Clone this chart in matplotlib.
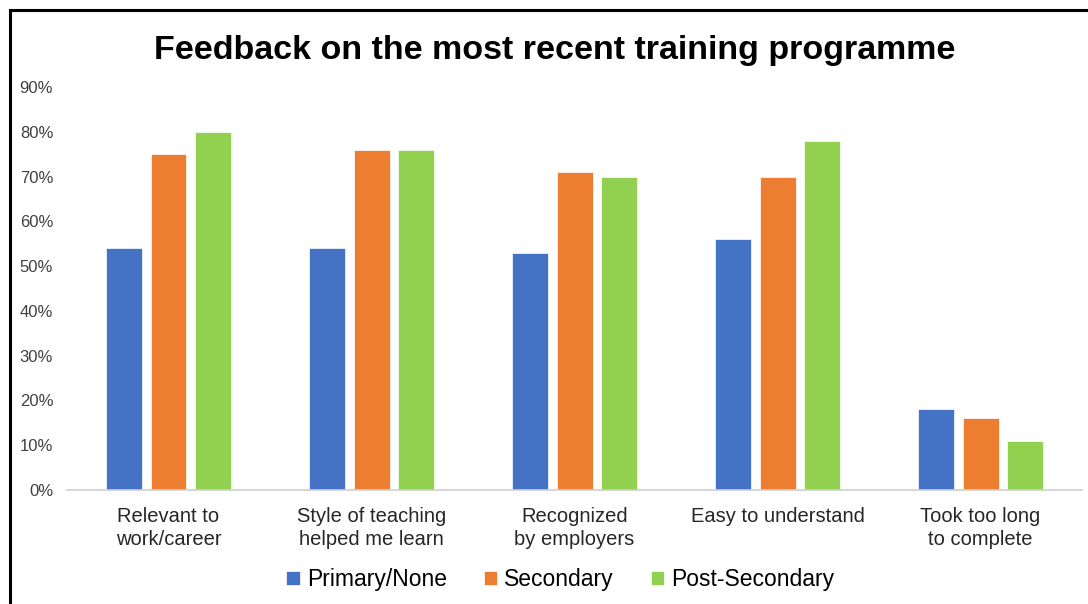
import numpy as np
import matplotlib
matplotlib.use("Agg")
import matplotlib.pyplot as plt
from matplotlib.lines import Line2D

plt.rcParams["font.family"] = ["Liberation Sans", "DejaVu Sans"]

# Data
categories = ["Relevant to\nwork/career", "Style of teaching\nhelped me learn",
              "Recognized\nby employers", "Easy to understand",
              "Took too long\nto complete"]
series = ["Primary/None", "Secondary", "Post-Secondary"]
primary = [0.54, 0.54, 0.53, 0.56, 0.18]
secondary = [0.75, 0.76, 0.71, 0.70, 0.16]
post_secondary = [0.80, 0.76, 0.70, 0.78, 0.11]
colors = ["#4472C4", "#ED7D31", "#92D050"]

fig = plt.figure(figsize=(10.88, 6.04), dpi=100)
ax = fig.add_axes([0.0616, 0.1887, 0.933, 0.6673])

x = np.arange(len(categories))
width = 0.177
step = 0.22
for i, (vals, name) in enumerate(zip([primary, secondary, post_secondary], series)):
    ax.bar(x + (i - 1) * step, vals, width, color=colors[i], label=name,
           edgecolor="white", linewidth=0.5)

ax.set_xlim(-0.5, len(categories) - 0.5)
ax.set_ylim(0, 0.9)
ax.set_yticks(np.arange(0, 0.91, 0.1))
ax.set_yticklabels([f"{int(round(v * 100))}%" for v in np.arange(0, 0.91, 0.1)],
                   fontsize=12, color="#404040")
ax.set_xticks(x)
ax.set_xticklabels(categories, fontsize=14.5, color="#262626", linespacing=1.3)
ax.tick_params(axis="both", length=0)
ax.tick_params(axis="x", pad=12)
ax.tick_params(axis="y", pad=10)
for s in ["top", "right", "left"]:
    ax.spines[s].set_visible(False)
ax.spines["bottom"].set_color("#D0D0D0")
ax.spines["bottom"].set_linewidth(1.2)

fig.suptitle("Feedback on the most recent training programme", fontsize=24.5,
             fontweight="bold", x=0.51, y=0.942)

ax.legend(loc="center", bbox_to_anchor=(0.486, -0.222), ncol=3, frameon=False,
          fontsize=16.5, handlelength=0.6, handleheight=0.6, handletextpad=0.3,
          columnspacing=1.6)

# outer frame (top and left edges visible in the original)
fig.add_artist(Line2D([10 / 1088, 10 / 1088], [0, 1 - 10 / 604],
                      transform=fig.transFigure, color="black", linewidth=2.2))
fig.add_artist(Line2D([10 / 1088, 1], [1 - 10 / 604, 1 - 10 / 604],
                      transform=fig.transFigure, color="black", linewidth=2.2))

fig.savefig("out.png", dpi=100)
